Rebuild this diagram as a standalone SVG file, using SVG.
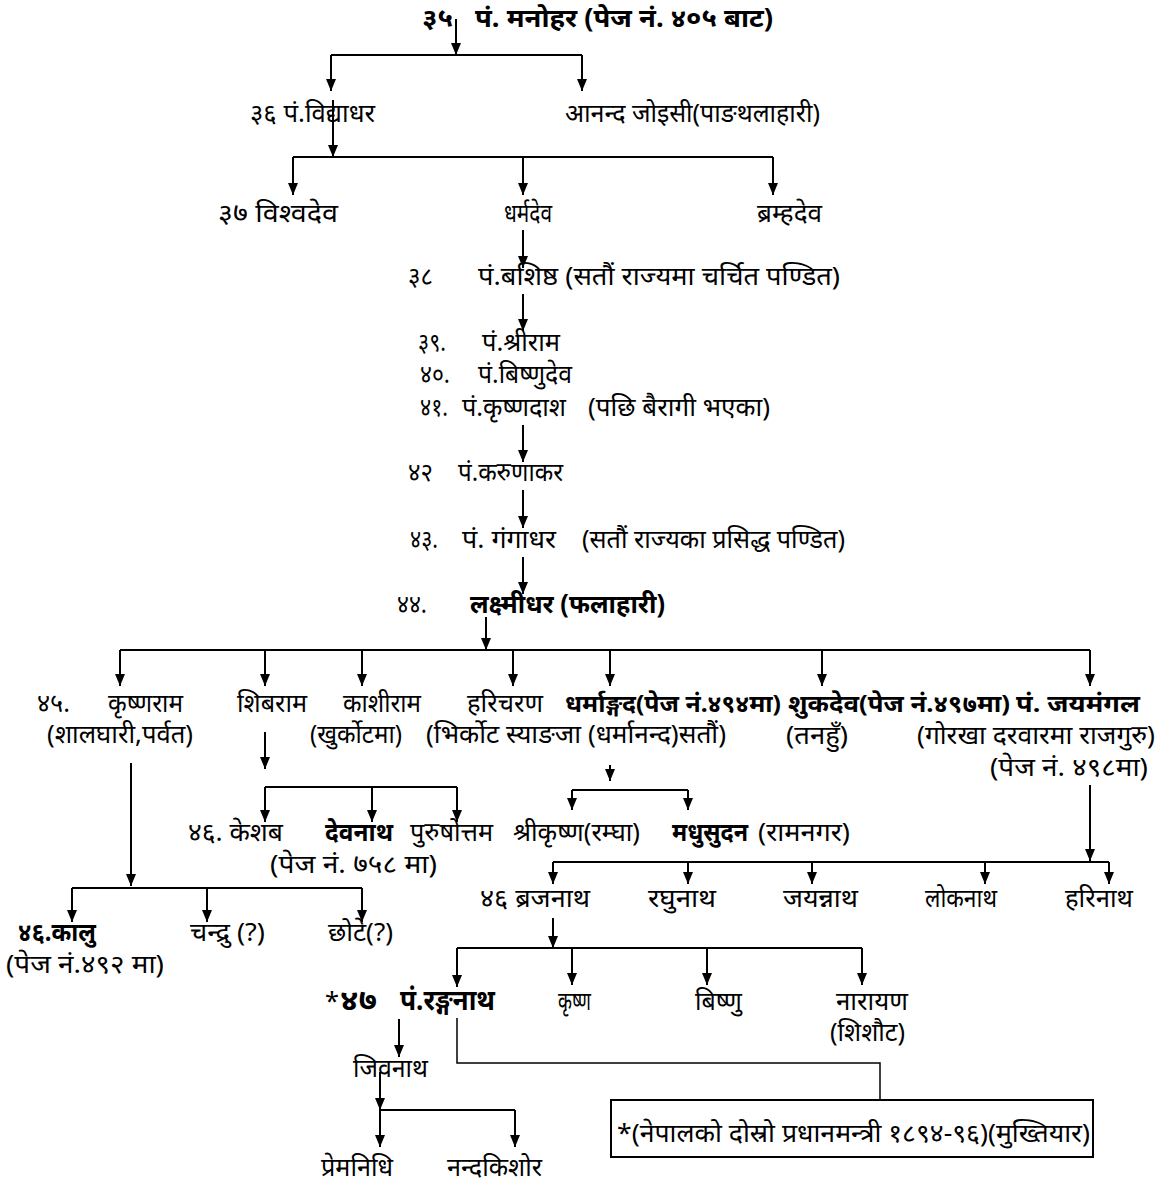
<svg xmlns="http://www.w3.org/2000/svg" width="1164" height="1185" viewBox="0 0 1164 1185">
<style>
text{font-family:"Noto Sans","Noto Sans Devanagari","DejaVu Sans",sans-serif;fill:#000;}
.t{font-size:25px;}
.b{font-size:26px;font-weight:bold;}
.b2{font-size:24px;font-weight:bold;}
.big{font-size:29px;font-weight:bold;}
.ln{stroke:#000;stroke-width:2;fill:none;}
.ar{stroke:#000;stroke-width:2;fill:none;marker-end:url(#ah);}
.th{stroke:#000;stroke-width:1.5;fill:none;}
</style>
<defs>
<marker id="ah" markerUnits="userSpaceOnUse" markerWidth="12" markerHeight="10" viewBox="0 0 12 10" refX="12" refY="5" orient="auto"><path d="M0,0 L12,5 L0,10 z" fill="#000"/></marker>
</defs>
<rect width="1164" height="1185" fill="#fff"/>
<g id="connectors">
<path class="ar" d="M456,19 V55"/>
<path class="ln" d="M331,55 H582"/>
<path class="ar" d="M331,55 V91"/><path class="ar" d="M582,55 V91"/>
<path class="ar" d="M333,100 V157"/>
<path class="ln" d="M293,157 H773"/>
<path class="ar" d="M293,157 V195"/><path class="ar" d="M523,157 V195"/><path class="ar" d="M773,157 V195"/>
<path class="ar" d="M523,230 V268"/>
<path class="ar" d="M523,294 V331"/>
<path class="ar" d="M523,425 V462"/>
<path class="ar" d="M523,490 V528"/>
<path class="ar" d="M523,557 V594"/>
<path class="ar" d="M486,617 V650"/>
<path class="ln" d="M120,650 H1090"/>
<path class="ar" d="M120,650 V686"/><path class="ar" d="M265,650 V686"/><path class="ar" d="M362,650 V686"/><path class="ar" d="M513,650 V686"/><path class="ar" d="M610,650 V686"/><path class="ar" d="M822,650 V686"/><path class="ar" d="M1090,650 V686"/>
<path class="ar" d="M265,732 V769"/>
<path class="ln" d="M265,787 H457"/>
<path class="ar" d="M265,787 V822"/><path class="ar" d="M372,787 V822"/><path class="ar" d="M457,787 V822"/>
<path class="ar" d="M610,765 V781"/>
<path class="ln" d="M572,790 H688"/>
<path class="ar" d="M572,790 V810"/><path class="ar" d="M688,790 V810"/>
<path class="ar" d="M131,763 V886"/>
<path class="ln" d="M72,888 H362"/>
<path class="ar" d="M72,888 V922"/><path class="ar" d="M207,888 V922"/><path class="ar" d="M362,888 V922"/>
<path class="ar" d="M1090,785 V861"/>
<path class="ln" d="M553,862 H1109"/>
<path class="ar" d="M553,862 V884"/><path class="ar" d="M688,862 V884"/><path class="ar" d="M812,862 V884"/><path class="ar" d="M985,862 V884"/><path class="ar" d="M1109,862 V884"/>
<path class="ar" d="M553,918 V948"/>
<path class="ln" d="M457,948 H862"/>
<path class="ar" d="M457,948 V987"/><path class="ar" d="M572,948 V985"/><path class="ar" d="M707,948 V985"/><path class="ar" d="M862,948 V985"/>
<path class="ar" d="M399,1019 V1057"/>
<path class="th" d="M457,1018 V1063 H880 V1100"/>
<path class="ar" d="M380,1072 V1110"/>
<path class="ln" d="M380,1110 H515"/>
<path class="ar" d="M380,1110 V1147"/><path class="ar" d="M515,1110 V1147"/>
</g>
<g id="n35"><text class="b" x="422" y="27" textLength="31" lengthAdjust="spacingAndGlyphs">३५</text><text class="b" x="475" y="27" textLength="298" lengthAdjust="spacingAndGlyphs">पं. मनोहर  (पेज नं. ४०५ बाट)</text></g>
<g id="n36"><text class="t" x="250" y="122" textLength="125" lengthAdjust="spacingAndGlyphs">३६ पं.विद्याधर</text></g>
<g id="n36b"><text class="t" x="565" y="122" textLength="255" lengthAdjust="spacingAndGlyphs">आनन्द जोइसी(पाङथलाहारी)</text></g>
<g id="n37a"><text class="t" x="218" y="222" textLength="120" lengthAdjust="spacingAndGlyphs">३७  विश्वदेव</text></g>
<g id="n37b"><text class="t" x="504" y="222" textLength="48" lengthAdjust="spacingAndGlyphs">धर्मदेव</text></g>
<g id="n37c"><text class="t" x="757" y="222" textLength="65" lengthAdjust="spacingAndGlyphs">ब्रम्हदेव</text></g>
<g id="n38"><text class="t" x="408" y="285" textLength="25" lengthAdjust="spacingAndGlyphs">३८</text><text class="t" x="478" y="285" textLength="362" lengthAdjust="spacingAndGlyphs">पं.बशिष्ठ (सतौं राज्यमा चर्चित पण्डित)</text></g>
<g id="n39"><text class="t" x="418" y="351" textLength="28" lengthAdjust="spacingAndGlyphs">३९.</text><text class="t" x="482" y="351" textLength="78" lengthAdjust="spacingAndGlyphs">पं.श्रीराम</text></g>
<g id="n40"><text class="t" x="420" y="383" textLength="30" lengthAdjust="spacingAndGlyphs">४०.</text><text class="t" x="478" y="383" textLength="94" lengthAdjust="spacingAndGlyphs">पं.बिष्णुदेव</text></g>
<g id="n41"><text class="t" x="420" y="416" textLength="28" lengthAdjust="spacingAndGlyphs">४१.</text><text class="t" x="462" y="416" textLength="104" lengthAdjust="spacingAndGlyphs">पं.कृष्णदाश</text><text class="t" x="588" y="416" textLength="182" lengthAdjust="spacingAndGlyphs">(पछि बैरागी भएका)</text></g>
<g id="n42"><text class="t" x="408" y="481" textLength="25" lengthAdjust="spacingAndGlyphs">४२</text><text class="t" x="458" y="481" textLength="105" lengthAdjust="spacingAndGlyphs">पं.करुणाकर</text></g>
<g id="n43"><text class="t" x="410" y="548" textLength="28" lengthAdjust="spacingAndGlyphs">४३.</text><text class="t" x="462" y="548" textLength="94" lengthAdjust="spacingAndGlyphs">पं. गंगाधर</text><text class="t" x="582" y="548" textLength="263" lengthAdjust="spacingAndGlyphs">(सतौं राज्यका प्रसिद्ध पण्डित)</text></g>
<g id="n44"><text class="t" x="397" y="613" textLength="30" lengthAdjust="spacingAndGlyphs">४४.</text><text class="b" x="470" y="613" textLength="195" lengthAdjust="spacingAndGlyphs">लक्ष्मीधर  (फलाहारी)</text></g>
<g id="n45a"><text class="t" x="37" y="712" textLength="33" lengthAdjust="spacingAndGlyphs">४५.</text><text class="t" x="108" y="712" textLength="75" lengthAdjust="spacingAndGlyphs">कृष्णराम</text><text class="t" x="47" y="743" textLength="146" lengthAdjust="spacingAndGlyphs">(शालघारी,पर्वत)</text></g>
<g id="n45b"><text class="t" x="237" y="712" textLength="70" lengthAdjust="spacingAndGlyphs">शिबराम</text></g>
<g id="n45c"><text class="t" x="343" y="712" textLength="78" lengthAdjust="spacingAndGlyphs">काशीराम</text><text class="t" x="310" y="743" textLength="92" lengthAdjust="spacingAndGlyphs">(खुर्कोटमा)</text></g>
<g id="n45d"><text class="t" x="467" y="712" textLength="76" lengthAdjust="spacingAndGlyphs">हरिचरण</text><text class="t" x="426" y="743" textLength="300" lengthAdjust="spacingAndGlyphs">(भिर्कोट स्याङजा (धर्मानन्द)सतौं)</text></g>
<g id="n45e"><text class="b2" x="565" y="712" textLength="216" lengthAdjust="spacingAndGlyphs">धर्माङ्गद(पेज नं.४९४मा)</text></g>
<g id="n45f"><text class="b2" x="788" y="712" textLength="222" lengthAdjust="spacingAndGlyphs">शुकदेव(पेज नं.४९७मा)</text><text class="t" x="786" y="744" textLength="62" lengthAdjust="spacingAndGlyphs">(तनहुँ)</text></g>
<g id="n45g"><text class="b2" x="1016" y="712" textLength="124" lengthAdjust="spacingAndGlyphs">पं. जयमंगल</text><text class="t" x="917" y="744" textLength="238" lengthAdjust="spacingAndGlyphs">(गोरखा दरवारमा राजगुरु)</text><text class="t" x="990" y="776" textLength="158" lengthAdjust="spacingAndGlyphs">(पेज नं. ४९८मा)</text></g>
<g id="n46a"><text class="t" x="188" y="841" textLength="95" lengthAdjust="spacingAndGlyphs">४६. केशब</text></g>
<g id="n46b"><text class="b" x="325" y="841" textLength="68" lengthAdjust="spacingAndGlyphs">देवनाथ</text><text class="t" x="270" y="873" textLength="167" lengthAdjust="spacingAndGlyphs">(पेज नं. ७५८ मा)</text></g>
<g id="n46c"><text class="t" x="410" y="841" textLength="83" lengthAdjust="spacingAndGlyphs">पुरुषोत्तम</text></g>
<g id="n46d"><text class="t" x="513" y="841" textLength="127" lengthAdjust="spacingAndGlyphs">श्रीकृष्ण(रम्घा)</text></g>
<g id="n46e"><text class="b" x="672" y="841" textLength="76" lengthAdjust="spacingAndGlyphs">मधुसुदन</text><text class="t" x="758" y="841" textLength="92" lengthAdjust="spacingAndGlyphs">(रामनगर)</text></g>
<g id="n46f"><text class="b" x="18" y="941" textLength="78" lengthAdjust="spacingAndGlyphs">४६.कालु</text><text class="t" x="6" y="973" textLength="158" lengthAdjust="spacingAndGlyphs">(पेज नं.४९२ मा)</text></g>
<g id="n46g"><text class="t" x="190" y="941" textLength="75" lengthAdjust="spacingAndGlyphs">चन्द्रु (?)</text></g>
<g id="n46h"><text class="t" x="328" y="941" textLength="65" lengthAdjust="spacingAndGlyphs">छोटे(?)</text></g>
<g id="n46i"><text class="t" x="480" y="907" textLength="110" lengthAdjust="spacingAndGlyphs">४६ ब्रजनाथ</text></g>
<g id="n46j"><text class="t" x="648" y="907" textLength="68" lengthAdjust="spacingAndGlyphs">रघुनाथ</text></g>
<g id="n46k"><text class="t" x="783" y="907" textLength="75" lengthAdjust="spacingAndGlyphs">जयन्नाथ</text></g>
<g id="n46l"><text class="t" x="925" y="907" textLength="72" lengthAdjust="spacingAndGlyphs">लोकनाथ</text></g>
<g id="n46m"><text class="t" x="1065" y="907" textLength="68" lengthAdjust="spacingAndGlyphs">हरिनाथ</text></g>
<g id="n47a"><text class="t" x="325" y="1010" textLength="14" lengthAdjust="spacingAndGlyphs">*</text><text class="big" x="340" y="1010" textLength="37" lengthAdjust="spacingAndGlyphs">४७</text><text class="big" x="400" y="1010" textLength="95" lengthAdjust="spacingAndGlyphs">पं.रङ्गनाथ</text></g>
<g id="n47b"><text class="t" x="558" y="1010" textLength="33" lengthAdjust="spacingAndGlyphs">कृष्ण</text></g>
<g id="n47c"><text class="t" x="695" y="1010" textLength="47" lengthAdjust="spacingAndGlyphs">बिष्णु</text></g>
<g id="n47d"><text class="t" x="836" y="1010" textLength="72" lengthAdjust="spacingAndGlyphs">नारायण</text><text class="t" x="830" y="1041" textLength="75" lengthAdjust="spacingAndGlyphs">(शिशौट)</text></g>
<g id="n48"><text class="t" x="353" y="1077" textLength="75" lengthAdjust="spacingAndGlyphs">जिवनाथ</text></g>
<g id="note"><rect x="611" y="1100" width="482" height="57" fill="none" stroke="#000" stroke-width="2"/><text class="t" x="617" y="1142" textLength="473" lengthAdjust="spacingAndGlyphs">*(नेपालको दोस्रो प्रधानमन्त्री १८९४-९६)(मुख्तियार)</text></g>
<g id="n49a"><text class="t" x="321" y="1176" textLength="72" lengthAdjust="spacingAndGlyphs">प्रेमनिधि</text></g>
<g id="n49b"><text class="t" x="447" y="1176" textLength="95" lengthAdjust="spacingAndGlyphs">नन्दकिशोर</text></g>
</svg>
